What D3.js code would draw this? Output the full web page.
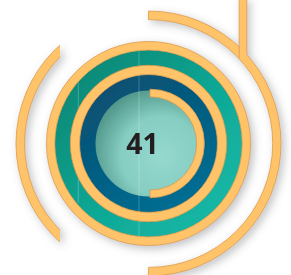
<!DOCTYPE html>
<html>
<head>
<meta charset="utf-8">
<script src="https://cdn.jsdelivr.net/npm/d3@7"></script>
<style>
  html, body { margin: 0; padding: 0; background: #fff; }
  svg { display: block; }
</style>
</head>
<body>
<svg id="chart"></svg>
<script>
// value shown in the middle
var centerValue = [41];
// share of a full turn covered by the open arcs (right outer arc, inner arc)
var arcShares = [0.5, 0.5];
// ring order from the outside in
var ringNames = ["outerRing", "tealBand", "innerRing", "blueBand", "core"];

var width = 291, height = 275;
var cx = 148.5, cy = 143.5;

var svg = d3.select("#chart")
    .attr("width", width)
    .attr("height", height);

var defs = svg.append("defs");

//soft drop shadow
var f = defs.append("filter").attr("id", "shadow")
    .attr("x", "-30%").attr("y", "-30%").attr("width", "160%").attr("height", "160%");
f.append("feGaussianBlur").attr("in", "SourceAlpha").attr("stdDeviation", 4).attr("result", "b");
f.append("feOffset").attr("in", "b").attr("dx", 3).attr("dy", 3).attr("result", "o");
f.append("feFlood").attr("flood-color", "#5e636b").attr("flood-opacity", 0.4);
f.append("feComposite").attr("in2", "o").attr("operator", "in").attr("result", "s");
var fm = f.append("feMerge");
fm.append("feMergeNode").attr("in", "s");
fm.append("feMergeNode").attr("in", "SourceGraphic");

var tealGrad = defs.append("linearGradient").attr("id", "teal")
    .attr("x1", "0").attr("y1", "0").attr("x2", "1").attr("y2", "1");
tealGrad.append("stop").attr("offset", "0%").attr("stop-color", "#07806e");
tealGrad.append("stop").attr("offset", "55%").attr("stop-color", "#10a896");
tealGrad.append("stop").attr("offset", "100%").attr("stop-color", "#17bcab");

var blueGrad = defs.append("linearGradient").attr("id", "blue")
    .attr("x1", "0").attr("y1", "0").attr("x2", "0.6").attr("y2", "1");
blueGrad.append("stop").attr("offset", "0%").attr("stop-color", "#0a4a6c");
blueGrad.append("stop").attr("offset", "100%").attr("stop-color", "#006d92");

var coreGrad = defs.append("radialGradient").attr("id", "core")
    .attr("cx", "0.62").attr("cy", "0.62").attr("r", "0.75");
coreGrad.append("stop").attr("offset", "0%").attr("stop-color", "#95d8ce");
coreGrad.append("stop").attr("offset", "50%").attr("stop-color", "#86cdc2");
coreGrad.append("stop").attr("offset", "100%").attr("stop-color", "#3f8577");

//the left arc is cut straight at x = 60
defs.append("clipPath").attr("id", "leftClip")
    .append("rect").attr("x", 0).attr("y", 0).attr("width", 60).attr("height", height);

var rScale = d3.scaleLinear().domain([0, 1]).range([0, 132.5]);
var turn = d3.scaleLinear().domain([0, 1]).range([0, 2 * Math.PI]);

var orange = "#ffc46b", orangeLine = "#dc9a4c";

// band radii per ring (fractions of the outer radius)
var bands = {
  outerRing: [0.705, 0.770],
  tealBand:  [0.585, 0.705],
  innerRing: [0.520, 0.590],
  blueBand:  [0.400, 0.522],
  core:      [0, 0.405]
};
var fills = {
  outerRing: orange, tealBand: "url(#teal)", innerRing: orange,
  blueBand: "url(#blue)", core: "url(#core)"
};

var arc = d3.arc();
var center = "translate(" + cx + "," + cy + ")";

//open arcs
var shadowG = svg.append("g").attr("filter", "url(#shadow)");

shadowG.append("g")
    .attr("clip-path", "url(#leftClip)")
  .append("path")
    .attr("transform", center)
    .attr("d", arc({innerRadius: rScale(0.933), outerRadius: rScale(1), startAngle: 0, endAngle: turn(1)}))
    .attr("fill", orange)
    .attr("stroke", orangeLine)
    .attr("stroke-width", 0.8);

var arcsG = shadowG.append("g").attr("transform", center);

arcsG.append("path")
    .datum(arcShares[0])
    .attr("d", d => arc({innerRadius: rScale(0.935), outerRadius: rScale(1), startAngle: 0, endAngle: turn(d)}))
    .attr("fill", orange)
    .attr("stroke", orangeLine)
    .attr("stroke-width", 0.8);

//vertical bar running into the outer arc
var barX = 243 - cx;
arcsG.append("rect")
    .attr("x", barX - 3.8).attr("y", -cy - 2)
    .attr("width", 7.6).attr("height", 60)
    .attr("fill", orange);
arcsG.append("path")
    .attr("d", "M" + (barX - 3.8) + "," + (-cy - 2) + "V" + (58 - cy) +
               "M" + (barX + 3.8) + "," + (-cy - 2) + "V" + (55 - cy))
    .attr("stroke", orangeLine).attr("stroke-width", 0.8).attr("fill", "none");

var g = svg.append("g")
    .attr("transform", center)
    .attr("filter", "url(#shadow)");

//coloured bands first
g.selectAll("path.band")
    .data(ringNames.filter(d => fills[d] !== orange).reverse())
    .join("path")
    .attr("class", "band")
    .attr("d", d => arc({innerRadius: rScale(bands[d][0]), outerRadius: rScale(bands[d][1]), startAngle: 0, endAngle: turn(1)}))
    .attr("fill", d => fills[d]);

//faint seams
g.append("line")
    .attr("x1", 139 - cx).attr("x2", 139 - cx)
    .attr("y1", -rScale(0.705)).attr("y2", rScale(0.705))
    .attr("stroke", "#ffffff").attr("stroke-opacity", 0.3).attr("stroke-width", 0.8);
g.append("line")
    .attr("x1", 78.3 - cx).attr("x2", 78.3 - cx)
    .attr("y1", 80 - cy).attr("y2", 203 - cy)
    .attr("stroke", "#ffffff").attr("stroke-opacity", 0.3).attr("stroke-width", 0.8);

//orange rings on top
g.selectAll("path.ring")
    .data(ringNames.filter(d => fills[d] === orange))
    .join("path")
    .attr("class", "ring")
    .attr("d", d => arc({innerRadius: rScale(bands[d][0]), outerRadius: rScale(bands[d][1]), startAngle: 0, endAngle: turn(1)}))
    .attr("fill", orange)
    .attr("stroke", orangeLine)
    .attr("stroke-width", 0.8);

//inner arc
g.append("path")
    .datum(arcShares[1])
    .attr("d", d => arc({innerRadius: rScale(0.352), outerRadius: rScale(0.41), startAngle: 0, endAngle: turn(d)}))
    .attr("transform", "translate(1.5,0)")
    .attr("fill", orange)
    .attr("stroke", orangeLine)
    .attr("stroke-width", 0.8);

//center value
svg.selectAll("text.value")
    .data(centerValue)
    .join("text")
    .attr("class", "value")
    .attr("x", 142.5)
    .attr("y", 153.5)
    .attr("text-anchor", "middle")
    .style("font-family", "'Open Sans', sans-serif")
    .style("font-weight", 700)
    .style("font-size", "28.5px")
    .attr("fill", "#231f20")
    .text(d => d);
</script>
</body>
</html>
